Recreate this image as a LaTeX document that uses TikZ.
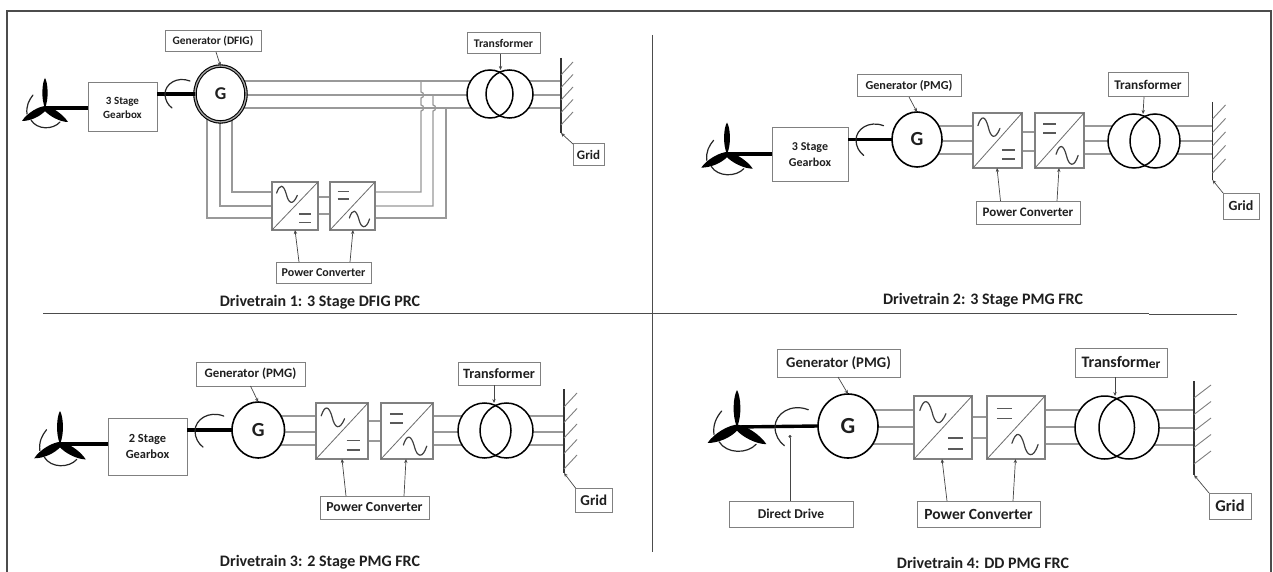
\documentclass[tikz,border=0pt]{standalone}
\usepackage{fontspec}
\setmainfont{Carlito}
\usetikzlibrary{shapes.geometric,arrows.meta,backgrounds}
\definecolor{wirec}{gray}{0.6}
\definecolor{boxc}{gray}{0.5}
\definecolor{inkc}{gray}{0.12}
\newcommand{\fs}[1]{\fontsize{#1}{#1}\selectfont}
\tikzset{
  lbl/.style={draw=boxc,line width=1pt,fill=white,inner sep=0pt,outer sep=0pt,font=\bfseries,text=inkc,align=center},
  convbox/.style={draw=boxc,line width=1.1pt,fill=white,inner sep=0pt,outer sep=0pt},
  gennode/.style={ellipse,draw=black,line width=1.6pt,fill=white,inner sep=0pt,outer sep=0pt,text=inkc},
  ringnode/.style={gennode,line width=1.1pt,double=gray!70,double distance=1.3pt},
  trafoc/.style={ellipse,draw=black,line width=1.5pt,inner sep=0pt,outer sep=0pt},
  wire/.style={draw=wirec,line width=1.3pt},
  conn/.style={draw=gray!55!black,line width=.7pt,-{Stealth[length=4pt,width=3.4pt]}},
  shaftl/.style={draw=black,line width=3.4pt},
  spinl/.style={draw=black!85,line width=1.2pt,line cap=round},
  barl/.style={draw=black!80,line width=1.7pt},
  hatchl/.style={draw=gray,line width=.9pt},
  convl/.style={draw=gray!85!black,line width=.8pt},
  glyphl/.style={draw=black!75,line width=1.2pt,line cap=round},
  eql/.style={draw=black!65,line width=1.6pt},
  framel/.style={draw=black!70,line width=1.4pt},
  dividerl/.style={draw=black!70,line width=.9pt},
  captionl/.style={inner sep=0pt,font=\fs{16}\bfseries,text=inkc}
}
\newcommand{\bx}[7][lbl]{%
  \pgfmathsetmacro\bxw{#5-#3}\pgfmathsetmacro\bxh{#6-#4}%
  \pgfmathsetmacro\bxx{(#3+#5)/2}\pgfmathsetmacro\bxy{(#4+#6)/2}%
  \node[#1,minimum width=\bxw pt,minimum height=\bxh pt] (#2) at (\bxx,\bxy) {#7};}
\newcommand{\wires}[3]{\begin{pgfonlayer}{background}\foreach \yy in {#3}{\draw[wire] (#1 |- 0,\yy) -- (#2 |- 0,\yy);}\end{pgfonlayer}}
\newcommand{\turbine}[4]{\begin{scope}[shift={(#1,#2)},xscale=#3,yscale=#4]
  \fill[black] (0,0) .. controls (-4,-9) and (-3,-25) .. (0,-30) .. controls (3,-25) and (4,-9) .. (0,0);
  \fill[black] (1,-2) .. controls (-6,-2) and (-18,5) .. (-23,13) .. controls (-15,13) and (-5,9) .. (1,2);
  \fill[black] (-1,-2) .. controls (6,-2) and (18,6) .. (23,14) .. controls (15,14) and (4,8) .. (-1,2);
  \draw[spinl] (-14,12) .. controls (-8,22) and (8,22) .. (15,14);
  \draw[spinl] (-12,-13) .. controls (-16,-8) and (-19,-2) .. (-18,6);
\end{scope}}
\newcommand{\spin}[3]{\begin{scope}[shift={(#1,#2)},scale=#3]
  \draw[spinl] (25,-13) .. controls (12,-18) and (0,-10) .. (0,0) .. controls (0,6) and (3,11) .. (7,14);
\end{scope}}
\newcommand{\hatches}[5]{\foreach \hi in {0,...,4}{\pgfmathsetmacro\ht{#4+\hi*#5}\pgfmathsetmacro\hb{\ht+#3}\pgfmathsetmacro\hx{#1+#2}\draw[hatchl] (#1,\hb) -- (\hx,\ht);}}
\newcommand{\convA}[1]{\begin{scope}[shift={(#1.north west)},xscale=\csname cw#1\endcsname,yscale=\csname ch#1\endcsname]
  \draw[convl] (0,1) -- (1,0);
  \draw[glyphl] (.10,.23) .. controls (.17,.03) and (.25,.05) .. (.31,.25) .. controls (.36,.45) and (.45,.5) .. (.55,.28);
  \draw[eql] (.59,.67) -- (.85,.67);\draw[eql] (.59,.84) -- (.85,.84);
\end{scope}}
\newcommand{\convB}[1]{\begin{scope}[shift={(#1.north west)},xscale=\csname cw#1\endcsname,yscale=\csname ch#1\endcsname]
  \draw[convl] (0,1) -- (1,0);
  \draw[glyphl] (.43,.75) .. controls (.50,.55) and (.58,.57) .. (.64,.77) .. controls (.69,.97) and (.80,1.0) .. (.88,.77);
  \draw[eql] (.17,.2) -- (.43,.2);\draw[eql] (.17,.36) -- (.43,.36);
\end{scope}}
\newcommand{\cv}[5]{\pgfmathsetmacro\cvw{#4-#2}\pgfmathsetmacro\cvh{#5-#3}%
  \expandafter\xdef\csname cw#1\endcsname{\cvw}\expandafter\xdef\csname ch#1\endcsname{\cvh}%
  \bx[convbox]{#1}{#2}{#3}{#4}{#5}{}}
\newcommand{\trafo}[7]{\pgfmathsetmacro\ea{(#2+#3)/2}\pgfmathsetmacro\eb{(#4+#5)/2}\pgfmathsetmacro\ec{(#6+#7)/2}%
  \pgfmathsetmacro\ed{(#3-#2)/2}\pgfmathsetmacro\ee{(#5-#4)/2}\pgfmathsetmacro\ef{(#7-#6)/2}%
  \fill[white] (\ea,\ec) ellipse [x radius=\ed,y radius=\ef];\fill[white] (\eb,\ec) ellipse [x radius=\ee,y radius=\ef];%
  \bx[trafoc]{#1a}{#2}{#6}{#3}{#7}{}\bx[trafoc]{#1b}{#4}{#6}{#5}{#7}{}}
\begin{document}
\begin{tikzpicture}[x=1pt,y=-1pt]
\useasboundingbox (0,0) rectangle (1273,572);
\begin{pgfonlayer}{background}\fill[white] (0,0) rectangle (1273,572);\end{pgfonlayer}
% frame and dividers
\coordinate (fa) at (7,572);\coordinate (fb) at (7,11);\coordinate (fc) at (1271,11);\coordinate (fd) at (1271,572);
\draw[framel] (fa) -- (fb) -- (fc) -- (fd);
\coordinate (ha) at (43,313);\coordinate (hb) at (1149,313);\coordinate (hc) at (1149,314);\coordinate (hd) at (1237,314);
\draw[dividerl] (ha) -- (hb);\draw[dividerl] (hc) -- (hd);
\coordinate (va) at (652,35);\coordinate (vb) at (652,552);
\draw[dividerl] (va) -- (vb);

%%%%% Drivetrain 1
\coordinate (h1) at (45,108);\coordinate (b1t) at (561,58);\coordinate (b1b) at (561,133);
\bx[lbl,font=\bfseries\fs{11}]{gb1}{88}{83}{157}{132}{3 Stage\\[3pt]Gearbox}
\bx[ringnode,font=\bfseries\fs{18}]{g1}{195}{66}{246}{122}{G}
\cv{c1a}{272}{182}{318}{230}\cv{c1b}{330}{182}{375}{230}
\convA{c1a}\convB{c1b}
\trafo{t1}{467}{513}{486}{533}{70}{118}
\wires{g1.center}{t1a.center}{81,95,108}
\wires{t1b.center}{b1t}{81,95,108}
\wires{c1a.center}{c1b.center}{197,214}
\begin{pgfonlayer}{background}
\draw[wire] (207,94) |- (c1a.west |- 0,218);
\draw[wire] (220,94) |- (c1a.west |- 0,206);
\draw[wire] (232,94) |- (c1a.west |- 0,192);
\draw[wire] (c1b.east |- 0,192) -- (421,192) -- (421,111) .. controls (424.5,110.5) and (424.5,105.5) .. (421,105) -- (421,98) .. controls (424.5,97.5) and (424.5,92.5) .. (421,92) -- (421,81);
\draw[wire] (c1b.east |- 0,206) -- (433,206) -- (433,111) .. controls (436.5,110.5) and (436.5,105.5) .. (433,105) -- (433,95);
\draw[wire] (c1b.east |- 0,218) -- (446,218) -- (446,108);
\end{pgfonlayer}
\draw[shaftl] (h1) -- (gb1.west |- h1);
\draw[shaftl] (gb1.east |- g1) -- (g1.west);
\turbine{45}{108}{1}{1}\spin{165}{94}{1}
\draw[barl] (b1t) -- (b1b);\hatches{561}{12}{13}{62}{12.5}
\bx[lbl,font=\bfseries\fs{11.4}]{l1g}{165}{31}{261}{52}{Generator (DFIG)}
\bx[lbl,font=\bfseries\fs{11.7}]{l1t}{467}{33}{540}{54}{Transformer}
\bx[lbl,font=\bfseries\fs{13}]{l1r}{573}{144}{604}{166}{Grid}
\bx[lbl,font=\bfseries\fs{12}]{l1p}{276}{262}{371}{283}{Power Converter}
\draw[conn] ([xshift=3pt]l1g.south) -- (g1.north);
\draw[conn] ([xshift=-3pt]l1t.south) -- ([xshift=-3pt]l1t.south |- t1a.north);
\draw[conn] (l1r.north west) -- (b1b);
\draw[conn] (l1p.north -| 299,0) -- (c1a.south -| 295,0);
\draw[conn] (l1p.north -| 350,0) -- (c1b.south -| 353,0);
\node[captionl] (cap1) at (320,302) {Drivetrain 1: 3 Stage DFIG PRC};

%%%%% Drivetrain 2
\coordinate (h2) at (727,154);\coordinate (b2t) at (1212.5,102);\coordinate (b2b) at (1212.5,180);
\bx[lbl,font=\bfseries\fs{12}]{gb2}{772}{128}{848}{182}{3 Stage\\[4pt]Gearbox}
\bx[gennode,font=\bfseries\fs{20}]{g2}{892}{112}{942}{167}{G}
\cv{c2a}{973}{113}{1022}{168}\cv{c2b}{1035}{113}{1084}{168}
\convA{c2a}\convB{c2b}
\trafo{t2}{1108}{1160}{1130}{1180}{114}{168}
\wires{g2.center}{c2a.center}{126,141,154}
\wires{c2b.center}{t2a.center}{126,141,154}
\wires{t2b.center}{b2t}{126,141,154}
\wires{c2a.center}{c2b.center}{132,151}
\draw[shaftl] (h2) -- (gb2.west |- h2);
\draw[shaftl] (gb2.east |- g2) -- (g2.west);
\turbine{727}{154}{1.12}{1.05}\spin{856}{140}{1.1}
\draw[barl] (b2t) -- (b2b);\hatches{1212.5}{13}{14}{105}{13.5}
\bx[lbl,font=\bfseries\fs{12.2}]{l2g}{857}{75}{961}{97}{Generator (PMG)}
\bx[lbl,font=\bfseries\fs{13.3}]{l2t}{1108}{73}{1188}{97}{Transformer}
\bx[lbl,font=\bfseries\fs{14}]{l2r}{1223}{193}{1259}{219}{Grid}
\bx[lbl,font=\bfseries\fs{13}]{l2p}{976}{201}{1080}{224}{Power Converter}
\draw[conn] (l2g.south) -- (g2.north);
\draw[conn] (l2t.south -| 1144,0) -- (t2a.north -| 1143,0);
\draw[conn] (l2r.north west) -- (b2b);
\draw[conn] (l2p.north -| 1000.5,0) -- (c2a.south -| 997,0);
\draw[conn] (l2p.north -| 1057,0) -- (c2b.south -| 1059,0);
\node[captionl] (cap2) at (983,300) {Drivetrain 2: 3 Stage PMG FRC};

%%%%% Drivetrain 3
\coordinate (h3) at (60,444);\coordinate (b3t) at (564,389);\coordinate (b3b) at (564,473);
\bx[lbl,font=\bfseries\fs{12.4}]{gb3}{108}{418}{187}{475}{2 Stage\\[4pt]Gearbox}
\bx[gennode,font=\bfseries\fs{20}]{g3}{232}{402}{284.5}{458}{G}
\cv{c3a}{316}{403}{368}{459}\cv{c3b}{381}{403}{433}{459}
\convA{c3a}\convB{c3b}
\trafo{t3}{458}{511}{480}{533}{403}{458}
\wires{g3.center}{c3a.center}{416,432,445}
\wires{c3b.center}{t3a.center}{416,432,445}
\wires{t3b.center}{b3t}{416,432,445}
\wires{c3a.center}{c3b.center}{421,441}
\draw[shaftl] (h3) -- (gb3.west |- h3);
\draw[shaftl] (gb3.east |- g3) -- (g3.west);
\turbine{60}{444}{1.12}{1.1}\spin{195}{431}{1.15}
\draw[barl] (b3t) -- (b3b);\hatches{564}{13}{14}{393}{15.5}
\bx[lbl,font=\bfseries\fs{12.9}]{l3g}{196}{362}{305}{386}{Generator (PMG)}
\bx[lbl,font=\bfseries\fs{14.2}]{l3t}{458}{362}{540}{385}{Transformer}
\bx[lbl,font=\bfseries\fs{15}]{l3r}{575.5}{488}{612}{512}{Grid}
\bx[lbl,font=\bfseries\fs{13.8}]{l3p}{320}{496}{429}{519}{Power Converter}
\draw[conn] (l3g.south) -- (g3.north);
\draw[conn] (l3t.south -| 494,0) -- (t3a.north -| 494,0);
\draw[conn] (l3r.north west) -- (b3b);
\draw[conn] (l3p.north -| 346,0) -- (c3a.south -| 342,0);
\draw[conn] (l3p.north -| 404,0) -- (c3b.south -| 406,0);
\node[captionl] (cap3) at (320,562) {Drivetrain 3: 2 Stage PMG FRC};

%%%%% Drivetrain 4
\coordinate (h4) at (737,427);\coordinate (b4t) at (1194,381);\coordinate (b4b) at (1194,475);
\bx[gennode,font=\bfseries\fs{23}]{g4}{818}{394}{878}{458}{G}
\cv{c4a}{914}{396}{972}{459}\cv{c4b}{987}{396}{1045}{459}
\convA{c4a}\convB{c4b}
\trafo{t4}{1075}{1134.5}{1099}{1159}{396}{459}
\wires{g4.center}{c4a.center}{410,427,444}
\wires{c4b.center}{t4a.center}{410,427,444}
\wires{t4b.center}{b4t}{410,428,445}
\wires{c4a.center}{c4b.center}{417,438}
\draw[shaftl] (h4) -- (g4.west);
\turbine{737}{427}{1.28}{1.23}\spin{775}{427}{1.33}
\draw[barl] (b4t) -- (b4b);\hatches{1194}{17}{13}{385}{16.5}
\bx[lbl,font=\bfseries\fs{14.7}]{l4g}{777}{349}{900}{377}{Generator (PMG)}
\bx[lbl,font=\bfseries\fs{13.5}]{l4d}{729}{501}{853}{527}{Direct Drive}
\bx[lbl,font=\bfseries\fs{16}]{l4t}{1075}{348}{1167}{377}{Transform{\fs{13.5}\raisebox{-1.5pt}{er}}}
\bx[lbl,font=\bfseries\fs{16.5}]{l4r}{1209}{493}{1251}{519}{Grid}
\bx[lbl,font=\bfseries\fs{15.5}]{l4p}{917}{501}{1040}{527}{Power Converter}
\coordinate (d4) at (790,435);
\draw[conn,-{Circle[length=3pt]}] (l4d.north -| d4) -- (d4);
\draw[conn] (l4g.south -| 838,0) -- (g4.north);
\draw[conn] (l4t.south -| 1115,0) -- (t4a.north -| 1115,0);
\draw[conn] (l4r.north west) -- (b4b);
\draw[conn] (l4p.north -| 947,0) -- (c4a.south -| 942,0);
\draw[conn] (l4p.north -| 1013,0) -- (c4b.south -| 1015.5,0);
\node[captionl] (cap4) at (983,563) {Drivetrain 4: DD PMG FRC};
\end{tikzpicture}
\end{document}
